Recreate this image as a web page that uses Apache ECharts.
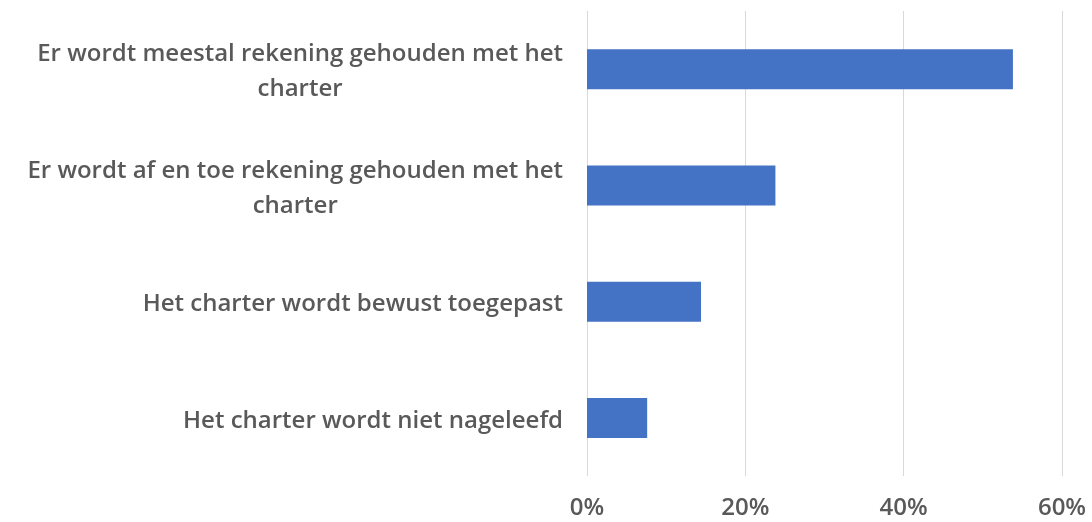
<!DOCTYPE html>
<html>
<head>
<meta charset="utf-8">
<script src="https://cdn.jsdelivr.net/npm/echarts@6/dist/echarts.min.js"></script>
<style>
  html, body { margin: 0; padding: 0; background: #ffffff; }
  #chart { width: 1092px; height: 522px; }
</style>
</head>
<body>
<div id="chart"></div>
<script>
// Answer categories, top to bottom
const categories = [
  'Er wordt meestal rekening gehouden met het\ncharter',
  'Er wordt af en toe rekening gehouden met het\ncharter',
  'Het charter wordt bewust toegepast',
  'Het charter wordt niet nageleefd'
];
// Share of respondents (%)
const shares = [53.8, 23.8, 14.4, 7.6];
// Value axis ticks (%)
const tickValues = [0, 20, 40, 60];

const textColor = '#595959';
const fontFamily = '"Open Sans", Lato, sans-serif';
const fontWeight = 600;
const fontSize = 24;

const chart = echarts.init(document.getElementById('chart'), null, { renderer: 'canvas' });

chart.setOption({
  animation: false,
  backgroundColor: '#ffffff',
  grid: { left: 587, right: 30, top: 11, bottom: 46 },
  xAxis: {
    type: 'value',
    min: tickValues[0],
    max: tickValues[tickValues.length - 1],
    interval: tickValues[1] - tickValues[0],
    axisLine: { show: false },
    axisTick: { show: false },
    splitLine: { show: true, lineStyle: { color: '#d9d9d9', width: 1 } },
    axisLabel: {
      margin: 20,
      color: textColor,
      fontFamily: fontFamily,
      fontWeight: fontWeight,
      fontSize: fontSize,
      formatter: v => v + '%'
    }
  },
  yAxis: {
    type: 'category',
    inverse: true,
    data: categories,
    axisLine: { show: false },
    axisTick: { show: false },
    splitLine: { show: false },
    axisLabel: {
      margin: 24,
      padding: [6, 0, 0, 0],
      color: textColor,
      fontFamily: fontFamily,
      fontWeight: fontWeight,
      fontSize: fontSize,
      lineHeight: 35,
      // each line centred inside the right-aligned label block
      formatter: v => v.split('\n').map(s => '{c|' + s + '}').join('\n'),
      rich: {
        c: {
          align: 'center',
          color: textColor,
          fontFamily: fontFamily,
          fontWeight: fontWeight,
          fontSize: fontSize,
          lineHeight: 35
        }
      }
    }
  },
  series: [{
    type: 'bar',
    data: shares,
    barWidth: 40,
    itemStyle: { color: '#4472C4' }
  }]
});
</script>
</body>
</html>
